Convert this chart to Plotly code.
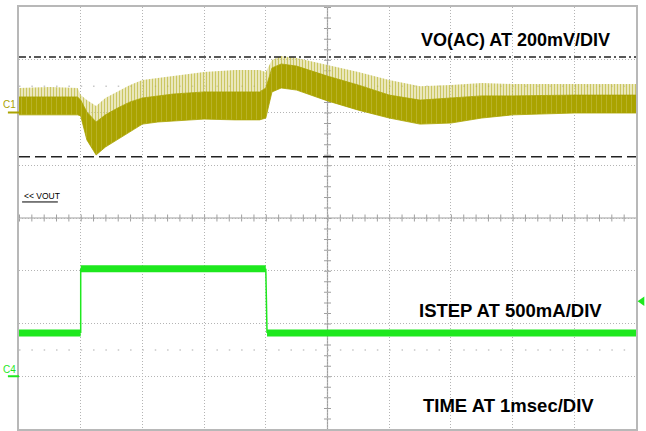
import plotly.graph_objects as go

# ---- data (time in ms, VO in mV AC-coupled, ISTEP in A) ----
t_vo = [0, 0.5, 0.95, 1.0, 1.1, 1.25, 1.4, 1.6, 1.8, 2.0, 2.25, 2.5, 3.0, 3.5, 3.9,
        4.0, 4.1, 4.25, 4.5, 5.0, 5.5, 6.0, 6.5, 7.0, 7.5, 8.0, 9.0, 10]
vo_low = [-9, -9, -9, -13, -104, -161, -131, -104, -74, -44, -36, -32, -25, -28, -28,
          -21, 78, 93, 85, 44, 9, -21, -44, -40, -21, -9, -2, -2]
vo_high = [59, 59, 59, 47, 2, -36, -9, 17, 40, 55, 63, 70, 78, 78, 78,
           93, 169, 184, 176, 138, 104, 66, 47, 55, 63, 63, 66, 66]
vo_peak = [93, 97, 93, 66, 47, 25, 55, 78, 104, 123, 131, 138, 154, 161, 161,
           154, 199, 214, 207, 180, 154, 123, 100, 104, 112, 108, 108, 108]

t_step = [0, 1.0, 1.0, 4.0, 4.02, 10]
i_step = [0.41, 0.41, 1.02, 1.02, 0.41, 0.41]

cursor_hi_mv = 210
cursor_lo_mv = -168
trig_level_a = 0.71

title_vo = "VO(AC) AT 200mV/DIV"
title_i = "ISTEP AT 500mA/DIV"
title_t = "TIME AT 1msec/DIV"

OLIVE = "#aaa300"
GREEN = "#1ee81e"
GRID = "#b4b4b4"

fig = go.Figure()

# yellow noisy band: spike fringe (vertical streak pattern) then dense band
fig.add_trace(go.Scatter(x=t_vo + t_vo[::-1], y=vo_peak + vo_high[::-1], fill="toself",
                         fillcolor="rgba(255,255,255,0)", mode="lines",
                         fillpattern=dict(shape="|", fgcolor=OLIVE, bgcolor="rgba(222,218,150,0.55)",
                                          size=3, solidity=0.4),
                         line=dict(width=0), hoverinfo="skip", showlegend=False))
fig.add_trace(go.Scatter(x=t_vo + t_vo[::-1], y=vo_high + vo_low[::-1], fill="toself",
                         mode="lines",
                         fillpattern=dict(shape="|", fgcolor="#cfca6a", bgcolor=OLIVE,
                                          size=5, solidity=0.15),
                         line=dict(width=0.8, color=OLIVE), hoverinfo="skip", showlegend=False))

# green current step: thick flat parts, thin edges
flat_x, flat_y, edge_x, edge_y = [], [], [], []
for k in range(len(t_step) - 1):
    if i_step[k] == i_step[k + 1]:
        flat_x += [t_step[k], t_step[k + 1], None]
        flat_y += [i_step[k], i_step[k + 1], None]
    else:
        edge_x += [t_step[k], t_step[k + 1], None]
        edge_y += [i_step[k], i_step[k + 1], None]
fig.add_trace(go.Scatter(x=edge_x, y=edge_y, yaxis="y2", mode="lines",
                         line=dict(color=GREEN, width=1.5), hoverinfo="skip", showlegend=False))
fig.add_trace(go.Scatter(x=flat_x, y=flat_y, yaxis="y2", mode="lines",
                         line=dict(color=GREEN, width=7), hoverinfo="skip", showlegend=False))

shapes = []
# center graticule lines with tick marks
shapes.append(dict(type="line", xref="x", yref="y", x0=0, x1=10, y0=-400, y1=-400,
                   line=dict(color="#a0a0a0", width=1.2), layer="below"))
shapes.append(dict(type="line", xref="x", yref="y", x0=0, x1=10, y0=-400, y1=-400,
                   line=dict(color="#a0a0a0", width=7, dash="1px,11.34px"), layer="below"))
shapes.append(dict(type="line", xref="x", yref="y", x0=5, x1=5, y0=-1200, y1=400,
                   line=dict(color="#a0a0a0", width=1.2), layer="below"))
shapes.append(dict(type="line", xref="x", yref="y", x0=5, x1=5, y0=400, y1=-1200,
                   line=dict(color="#a0a0a0", width=7, dash="1px,9.55px"), layer="below"))
# faint half-division dot rows
for yv in (100, -900):
    shapes.append(dict(type="line", xref="x", yref="y", x0=0, x1=10, y0=yv, y1=yv,
                       line=dict(color="#c8c8c8", width=1.5, dash="1.5px,10.84px"), layer="below"))
# cursors
shapes.append(dict(type="line", xref="x", yref="y", x0=0, x1=10, y0=cursor_hi_mv, y1=cursor_hi_mv,
                   line=dict(color="#222222", width=1.5, dash="7px,3px,2px,3px")))
shapes.append(dict(type="line", xref="x", yref="y", x0=0, x1=10, y0=cursor_lo_mv, y1=cursor_lo_mv,
                   line=dict(color="#222222", width=1.5, dash="11px,5px")))
# channel ground markers
shapes.append(dict(type="line", xref="paper", yref="y", x0=-0.018, x1=0, y0=0, y1=0,
                   line=dict(color=OLIVE, width=2)))
shapes.append(dict(type="line", xref="paper", yref="y2", x0=-0.018, x1=0, y0=0, y1=0,
                   line=dict(color=GREEN, width=2)))
# VOUT underline
shapes.append(dict(type="line", xref="paper", yref="paper", x0=0.005, x1=0.063, y0=0.538, y1=0.538,
                   line=dict(color="black", width=1)))
# trigger level marker (left-pointing triangle beyond right edge)
shapes.append(dict(type="path", xref="paper", yref="y2",
                   path="M 1.0025,%f L 1.0135,%f L 1.0135,%f Z" % (trig_level_a, trig_level_a + 0.045,
                                                                   trig_level_a - 0.045),
                   fillcolor=GREEN, line=dict(width=0)))

bold = dict(family="Liberation Sans, Arial, sans-serif", size=18, color="black")
annotations = [
    dict(text="<b>%s</b>" % title_vo, x=8.04, y=275, xref="x", yref="y", showarrow=False,
         font=bold, xanchor="center", yanchor="middle"),
    dict(text="<b>%s</b>" % title_i, x=7.96, y=-749, xref="x", yref="y", showarrow=False,
         font=dict(bold, size=18.5), xanchor="center", yanchor="middle"),
    dict(text="<b>%s</b>" % title_t, x=7.94, y=-1109, xref="x", yref="y", showarrow=False,
         font=dict(bold, size=18.5), xanchor="center", yanchor="middle"),
    dict(text="C1", x=-0.002, y=0.770, xref="paper", yref="paper", showarrow=False,
         font=dict(family="Liberation Sans, Arial", size=10, color=OLIVE), xanchor="right", yanchor="middle"),
    dict(text="C4", x=-0.002, y=0.142, xref="paper", yref="paper", showarrow=False,
         font=dict(family="Liberation Sans, Arial", size=10, color=GREEN), xanchor="right", yanchor="middle"),
    dict(text="&lt;&lt; VOUT", x=0.005, y=0.551, xref="paper", yref="paper", showarrow=False,
         font=dict(family="Liberation Sans, Arial", size=8.5, color="black"), xanchor="left", yanchor="middle"),
]

fig.update_layout(
    width=646, height=431,
    margin=dict(l=19, r=10, t=7, b=2, autoexpand=False),
    paper_bgcolor="white", plot_bgcolor="white",
    showlegend=False,
    xaxis=dict(range=[0, 10], dtick=1, showgrid=True, gridcolor=GRID, griddash="1px,2px", gridwidth=1,
               showticklabels=False, ticks="", zeroline=False, showline=True, mirror=True,
               linecolor="#b8b8b8", linewidth=2, fixedrange=True),
    yaxis=dict(range=[-1200, 400], dtick=200, tick0=0, showgrid=True, gridcolor=GRID, griddash="1px,2px",
               gridwidth=1, showticklabels=False, ticks="", zeroline=False, showline=True, mirror=True,
               linecolor="#b8b8b8", linewidth=2, fixedrange=True),
    yaxis2=dict(range=[-0.5, 3.5], overlaying="y", visible=False, fixedrange=True),
    shapes=shapes, annotations=annotations,
)

fig.write_html("out.html", config={"displayModeBar": False},
               post_script="document.body.style.margin='0px';document.body.style.overflow='hidden';")
